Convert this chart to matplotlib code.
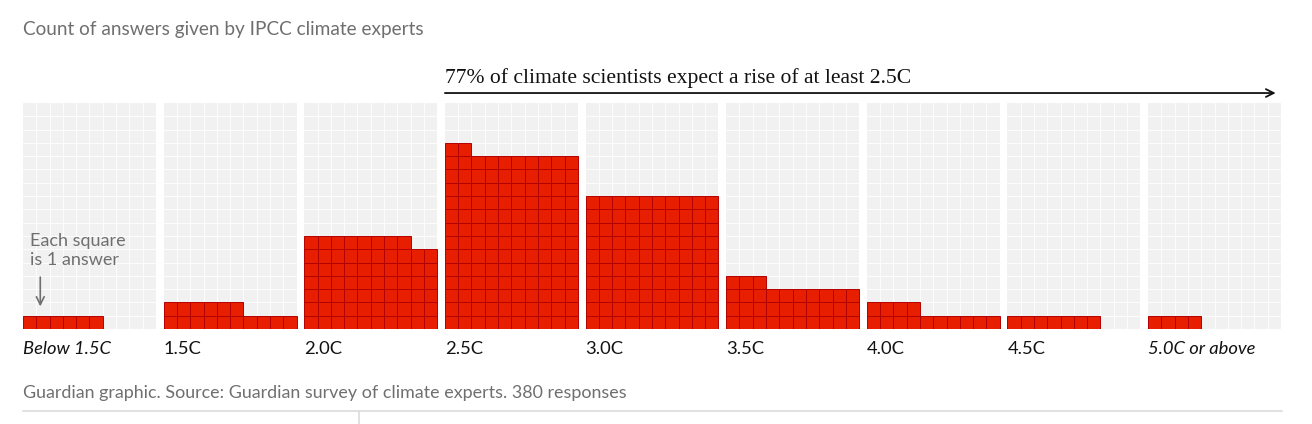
import matplotlib
matplotlib.use("Agg")
import matplotlib.pyplot as plt
from matplotlib.patches import Rectangle

# answers per temperature bucket
categories = ["Below 1.5C", "1.5C", "2.0C", "2.5C", "3.0C", "3.5C", "4.0C", "4.5C", "5.0C or above"]
counts = [6, 16, 68, 132, 100, 33, 14, 7, 4]
italic_labels = ["Below 1.5C", "5.0C or above"]

title = "Count of answers given by IPCC climate experts"
note = "77% of climate scientists expect a rise of at least 2.5C"
note_start = "2.5C"
key_text = "Each square\nis 1 answer"
source = "Guardian graphic. Source: Guardian survey of climate experts. 380 responses"

COLS = 10
ROWS = 17
GAP = 0.58
RED = "#e81e00"
RED_EDGE = "#b30000"
BG = "#f1f1f1"
GREY = "#6f6f6f"
SANS = "Lato"

W, H = 1312, 424
fig = plt.figure(figsize=(W / 100, H / 100), dpi=100)
ax = fig.add_axes([23 / W, 95 / H, 1258 / W, 226 / H])
total_w = len(categories) * COLS + (len(categories) - 1) * GAP
ax.set_xlim(0, total_w)
ax.set_ylim(0, ROWS)
ax.axis("off")

for i, (cat, n) in enumerate(zip(categories, counts)):
    x0 = i * (COLS + GAP)
    ax.add_patch(Rectangle((x0, 0), COLS, ROWS, facecolor=BG, edgecolor="none", zorder=0))
    for k in range(1, COLS):
        ax.plot([x0 + k, x0 + k], [0, ROWS], color="white", lw=0.6, zorder=1)
    for k in range(1, ROWS):
        ax.plot([x0, x0 + COLS], [k, k], color="white", lw=0.6, zorder=1)
    for j in range(n):
        r, c = divmod(j, COLS)
        ax.add_patch(Rectangle((x0 + c, r), 1, 1, facecolor=RED, edgecolor=RED_EDGE,
                               lw=0.7, zorder=2))
    style = "italic" if cat in italic_labels else "normal"
    ax.text(x0, -1.5, cat, ha="left", va="center", fontsize=13.2, family=SANS,
            style=style, color="#121212", clip_on=False)

# arrow from 2.5C onwards
xs = categories.index(note_start) * (COLS + GAP)
ax.annotate("", xy=(total_w - 0.4, ROWS + 0.75), xytext=(xs, ROWS + 0.75),
            arrowprops=dict(arrowstyle="->", color="#121212", lw=1.3,
                            shrinkA=0, shrinkB=0, mutation_scale=14),
            annotation_clip=False)
ax.text(xs, ROWS + 1.1, note, ha="left", va="bottom", fontsize=15.6,
        family="Liberation Serif", color="#121212", clip_on=False)

# key
ax.text(0.5, 5.9, key_text, ha="left", va="center", fontsize=13, family=SANS,
        color=GREY, linespacing=1.25, clip_on=False)
ax.annotate("", xy=(1.3, 1.7), xytext=(1.3, 3.9),
            arrowprops=dict(arrowstyle="->", color=GREY, lw=1.2,
                            shrinkA=0, shrinkB=0, mutation_scale=14))

fig.text(23 / W, 1 - 29 / H, title, ha="left", va="center", fontsize=13.7,
         family=SANS, color=GREY)
fig.text(23 / W, 1 - 393 / H, source, ha="left", va="center", fontsize=12.9,
         family=SANS, color=GREY)

fig.add_artist(plt.Line2D([23 / W, 1282 / W], [1 - 411 / H, 1 - 411 / H],
                          color="#dcdcdc", lw=1.2))
fig.add_artist(plt.Line2D([359 / W, 359 / W], [1 - 411 / H, 0],
                          color="#dcdcdc", lw=1.2))

fig.savefig("out.png", dpi=100, facecolor="white")
